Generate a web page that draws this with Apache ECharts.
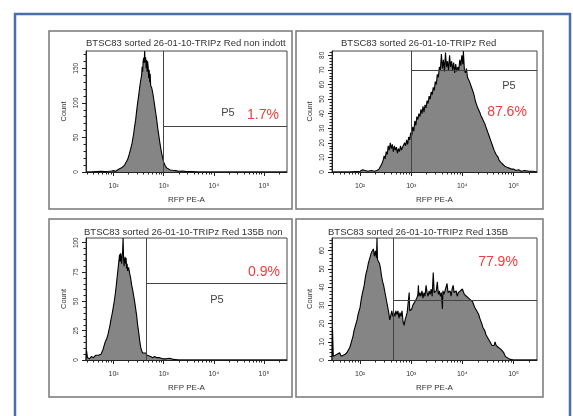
<!DOCTYPE html>
<html><head><meta charset="utf-8">
<script src="https://cdn.jsdelivr.net/npm/echarts@6/dist/echarts.min.js"></script>
<style>html,body{margin:0;padding:0;background:#fff}#c{width:573px;height:416px}</style>
</head><body><div id="c"></div>
<script>
// ---------- data ----------
const panelTitles = [
  'BTSC83 sorted 26-01-10-TRIPz Red non indott',
  'BTSC83 sorted 26-01-10-TRIPz Red',
  'BTSC83 sorted 26-01-10-TRIPz Red 135B non',
  'BTSC83 sorted 26-01-10-TRIPz Red 135B'
];
const xAxisName = 'RFP PE-A';
const yAxisName = 'Count';
const xTickDecades = [2, 3, 4, 5];
const xTickLabels = ['10²', '10³', '10⁴', '10⁵'];
const xMin = 1.45, xMax = 5.46;
const yMaxes = [175, 83, 104, 67];
const yLabelTicks = [
  [0, 50, 100, 150],
  [0, 10, 20, 30, 40, 50, 60, 70, 80],
  [0, 25, 50, 75, 100],
  [0, 10, 20, 30, 40, 50, 60]
];
const yMinorSteps = [10, 2, 5, 2];
const gateName = 'P5';
const gateX = [3.0, 3.0, 2.65, 2.65];
const gateY = [66, 70, 65.5, 33];
const gatePercent = ['1.7%', '87.6%', '0.9%', '77.9%'];

// histograms: [log10(RFP PE-A), count]
const histTL = [[1.46,0],[1.55,0],[1.65,0.5],[1.75,1],[1.82,0.5],[1.90,1],[1.96,1.5],[2.00,2],[2.04,1],[2.07,3],[2.10,4],[2.13,3],[2.16,6],[2.19,8],[2.22,10],[2.25,14],[2.28,18],[2.31,25],[2.34,33],[2.37,42],[2.40,55],[2.42,66],[2.44,75],[2.46,88],[2.48,100],[2.50,110],[2.52,122],[2.54,132],[2.56,140],[2.57,152],[2.58,145],[2.59,160],[2.60,165],[2.61,158],[2.62,175],[2.63,158],[2.64,166],[2.65,150],[2.66,162],[2.67,145],[2.68,160],[2.69,152],[2.70,136],[2.71,148],[2.72,130],[2.73,142],[2.74,125],[2.76,122],[2.78,115],[2.80,106],[2.82,96],[2.84,86],[2.86,76],[2.88,64],[2.90,54],[2.92,44],[2.94,35],[2.96,27],[2.98,20],[3.00,14],[3.03,9],[3.06,6],[3.09,4],[3.13,3],[3.18,2.5],[3.24,2],[3.30,1],[3.38,1.5],[3.45,0.5],[3.55,0.5],[3.70,0],[5.46,0]];
const histTR = [[1.45,0],[1.80,0],[2.00,0.5],[2.05,1.5],[2.08,0.5],[2.15,0.5],[2.22,1],[2.28,0.5],[2.33,1],[2.37,2],[2.40,4],[2.43,6],[2.45,8],[2.47,11],[2.49,9],[2.51,14],[2.53,12],[2.55,18],[2.57,15],[2.59,20],[2.61,16],[2.63,19],[2.65,14],[2.67,18],[2.69,15],[2.71,17],[2.73,13],[2.75,16],[2.77,14],[2.79,18],[2.81,15],[2.83,17],[2.85,16],[2.87,20],[2.89,18],[2.91,22],[2.93,19],[2.95,24],[2.97,22],[2.99,27],[3.01,25],[3.03,31],[3.05,28],[3.07,35],[3.09,32],[3.11,38],[3.13,36],[3.15,40],[3.17,38],[3.19,43],[3.21,40],[3.23,45],[3.25,41],[3.27,46],[3.29,44],[3.31,49],[3.33,47],[3.35,52],[3.37,50],[3.39,55],[3.41,53],[3.43,58],[3.45,56],[3.47,62],[3.49,60],[3.51,67],[3.53,65],[3.55,72],[3.57,70],[3.59,81],[3.61,71],[3.63,77],[3.65,69],[3.67,82],[3.69,72],[3.71,76],[3.73,70],[3.75,80],[3.77,72],[3.79,76],[3.81,70],[3.83,75],[3.85,68],[3.87,74],[3.89,69],[3.91,72],[3.93,70],[3.95,77],[3.97,73],[3.99,80],[4.01,74],[4.02,83],[4.04,70],[4.06,68],[4.08,71],[4.10,65],[4.12,66],[4.14,62],[4.16,63],[4.18,58],[4.20,57],[4.22,54],[4.24,51],[4.26,48],[4.28,46],[4.30,44],[4.32,43],[4.34,41],[4.36,39],[4.38,38],[4.40,36],[4.42,35],[4.44,33],[4.46,31],[4.48,29],[4.50,27],[4.52,25],[4.54,23],[4.56,21],[4.58,19],[4.60,17],[4.62,15],[4.64,14],[4.66,12],[4.68,11],[4.70,10],[4.72,8],[4.74,7],[4.77,6],[4.80,5],[4.83,4],[4.86,5],[4.89,3],[4.92,3],[4.96,2],[5.00,2],[5.05,1],[5.10,1.5],[5.15,0.5],[5.22,1],[5.30,0.5],[5.38,0.5],[5.46,0]];
const histBL = [[1.45,0],[1.46,8],[1.48,2],[1.52,1],[1.56,3],[1.60,2],[1.64,4],[1.67,3],[1.70,4],[1.73,3],[1.75,5],[1.77,6],[1.79,9],[1.81,12],[1.83,15],[1.85,17],[1.87,19],[1.89,22],[1.91,26],[1.93,30],[1.95,35],[1.97,39],[1.99,44],[2.01,49],[2.03,55],[2.05,62],[2.07,70],[2.09,78],[2.11,86],[2.12,90],[2.13,84],[2.14,91],[2.15,87],[2.16,82],[2.17,89],[2.18,92],[2.19,104],[2.20,86],[2.21,80],[2.22,85],[2.23,88],[2.24,82],[2.25,87],[2.26,78],[2.27,82],[2.28,76],[2.30,79],[2.32,74],[2.34,70],[2.36,64],[2.38,60],[2.40,55],[2.42,50],[2.44,44],[2.46,38],[2.48,30],[2.50,24],[2.52,17],[2.54,11],[2.56,8],[2.58,6],[2.61,5],[2.64,6],[2.67,4],[2.70,4],[2.74,3],[2.78,2],[2.82,3],[2.86,2],[2.92,2],[2.98,1],[3.05,1],[3.12,1.5],[3.20,0.5],[3.30,0],[5.46,0]];
const histBR = [[1.45,0],[1.46,17],[1.475,2],[1.50,1],[1.54,3],[1.57,2],[1.60,4],[1.63,2],[1.66,3],[1.70,3],[1.74,4],[1.77,5],[1.80,7],[1.83,10],[1.86,13],[1.88,16],[1.90,18],[1.92,20],[1.94,22],[1.96,25],[1.98,27],[2.00,29],[2.02,33],[2.04,36],[2.06,37],[2.08,41],[2.10,45],[2.12,48],[2.14,50],[2.16,53],[2.18,55],[2.20,56],[2.22,59],[2.24,58],[2.26,61],[2.28,57],[2.30,60],[2.32,56],[2.33,67],[2.34,55],[2.36,56],[2.38,53],[2.40,50],[2.42,46],[2.44,43],[2.46,41],[2.48,38],[2.50,35],[2.52,32],[2.54,29],[2.56,26],[2.58,22],[2.60,21],[2.62,27],[2.64,24],[2.66,26],[2.68,24],[2.70,27],[2.72,25],[2.74,27],[2.76,23],[2.78,26],[2.80,24],[2.82,27],[2.84,21],[2.86,19],[2.88,22],[2.90,24],[2.92,26],[2.94,25],[2.96,37],[2.97,27],[2.99,26],[3.01,28],[3.03,30],[3.05,29],[3.07,32],[3.09,31],[3.11,34],[3.13,36],[3.14,41],[3.15,35],[3.17,37],[3.19,35],[3.21,38],[3.23,34],[3.25,37],[3.27,35],[3.29,41],[3.31,37],[3.33,35],[3.35,38],[3.37,36],[3.39,39],[3.41,35],[3.43,48],[3.45,37],[3.47,36],[3.49,38],[3.51,43],[3.53,36],[3.55,38],[3.57,35],[3.59,37],[3.61,28],[3.62,38],[3.64,36],[3.66,38],[3.68,37],[3.70,42],[3.72,37],[3.74,36],[3.76,38],[3.78,35],[3.80,39],[3.82,41],[3.84,37],[3.86,36],[3.88,38],[3.90,35],[3.92,37],[3.94,36],[3.96,38],[3.98,37],[4.00,39],[4.02,40],[4.04,36],[4.06,37],[4.08,35],[4.10,36],[4.12,34],[4.14,35],[4.16,33],[4.18,34],[4.20,32],[4.22,31],[4.24,29],[4.26,30],[4.28,27],[4.30,26],[4.32,25],[4.34,23],[4.36,22],[4.38,20],[4.40,18],[4.42,17],[4.44,16],[4.46,14],[4.48,13],[4.50,12],[4.52,11],[4.54,10],[4.56,9],[4.58,8],[4.60,9],[4.62,8],[4.64,10],[4.66,8],[4.68,9],[4.70,7],[4.72,6],[4.75,6],[4.78,5],[4.81,4],[4.84,2],[4.87,1],[4.92,0.5],[5.00,0],[5.46,0]];
const histograms = [histTL, histTR, histBL, histBR];

// ---------- layout ----------
const grids = [
  {left: 86, top: 51, width: 201, height: 121},
  {left: 332, top: 51, width: 205, height: 121},
  {left: 86, top: 238, width: 201, height: 122},
  {left: 332, top: 238, width: 205, height: 122}
];
const titlePos = [{left: 86, top: 38}, {left: 341, top: 38}, {left: 84, top: 227}, {left: 328, top: 227}];
const panelBoxes = [[49, 31, 243, 178], [296, 31, 247, 178], [49, 219, 243, 178], [296, 219, 247, 178]];
// annotation text centres (pixels)
const annot = [
  {p5: [228, 113], pct: [263, 115]},
  {p5: [509, 86], pct: [507, 112]},
  {p5: [217, 300], pct: [264, 272]},
  {p5: null, pct: [498, 262]}
];

const xMinor = [];
for (let n = 1; n <= 5; n++) for (let k = 2; k <= 9; k++) {
  const v = n + Math.log10(k);
  if (v > xMin && v < xMax) xMinor.push(v);
}
function yMinorOf(i) {
  const out = [];
  for (let v = yMinorSteps[i]; v < yMaxes[i]; v += yMinorSteps[i]) {
    if (yLabelTicks[i].indexOf(v) < 0) out.push(v);
  }
  return out;
}

const FONT = 'Liberation Sans, Arial, sans-serif';
const xAxes = [], yAxes = [], series = [], titles = [], graphics = [];

for (let i = 0; i < 4; i++) {
  xAxes.push({
    type: 'value', gridIndex: i, min: xMin, max: xMax, position: 'bottom',
    axisLine: {show: true, lineStyle: {color: '#222', width: 1}},
    axisTick: {show: true, customValues: xTickDecades, length: 4, lineStyle: {color: '#222'}},
    axisLabel: {customValues: xTickDecades, fontSize: 7, color: '#333', margin: 11,
      formatter: v => xTickLabels[xTickDecades.indexOf(Math.round(v))] || ''},
    splitLine: {show: false},
    name: xAxisName, nameLocation: 'middle', nameGap: 24,
    nameTextStyle: {fontSize: 8, color: '#333'}
  });
  xAxes.push({
    type: 'value', gridIndex: i, min: xMin, max: xMax, position: 'bottom',
    axisLine: {show: false},
    axisTick: {show: true, customValues: xMinor, length: 2.5, lineStyle: {color: '#222'}},
    axisLabel: {show: false}, splitLine: {show: false}
  });
  yAxes.push({
    type: 'value', gridIndex: i, min: 0, max: yMaxes[i], position: 'left',
    axisLine: {show: true, lineStyle: {color: '#222', width: 1}},
    axisTick: {show: true, customValues: yLabelTicks[i], length: 4, lineStyle: {color: '#222'}},
    axisLabel: {customValues: yLabelTicks[i], rotate: 90, fontSize: 6.5, color: '#333', margin: 6},
    splitLine: {show: false},
    name: yAxisName, nameLocation: 'middle', nameRotate: 90, nameGap: 18,
    nameTextStyle: {fontSize: 7.5, color: '#333'}
  });
  yAxes.push({
    type: 'value', gridIndex: i, min: 0, max: yMaxes[i], position: 'left',
    axisLine: {show: false},
    axisTick: {show: true, customValues: yMinorOf(i), length: 2.5, lineStyle: {color: '#222'}},
    axisLabel: {show: false}, splitLine: {show: false}
  });
  series.push({
    type: 'line', xAxisIndex: 2 * i, yAxisIndex: 2 * i, data: histograms[i],
    showSymbol: false, symbol: 'none', animation: false, silent: true,
    lineStyle: {color: '#000', width: 1.1},
    areaStyle: {color: '#858585', opacity: 1},
    markLine: {
      silent: true, symbol: ['none', 'none'], animation: false,
      label: {show: false},
      lineStyle: {color: '#444', width: 1, type: 'solid'},
      data: [
        [{coord: [gateX[i], 0]}, {coord: [gateX[i], yMaxes[i]]}],
        [{coord: [gateX[i], gateY[i]]}, {coord: [xMax, gateY[i]]}]
      ]
    }
  });
  titles.push({
    text: panelTitles[i], left: titlePos[i].left, top: titlePos[i].top, padding: 0,
    textStyle: {fontSize: 9.5, fontWeight: 'normal', color: '#333', fontFamily: FONT}
  });
  const b = panelBoxes[i];
  graphics.push({type: 'rect', z: 0, shape: {x: b[0], y: b[1], width: b[2], height: b[3]},
    style: {fill: 'none', stroke: '#777', lineWidth: 1.5}});
  if (annot[i].p5) graphics.push({type: 'text', z: 10, x: annot[i].p5[0], y: annot[i].p5[1],
    style: {text: gateName, fontSize: 11, fill: '#444', align: 'center', verticalAlign: 'middle', fontFamily: FONT}});
  graphics.push({type: 'text', z: 10, x: annot[i].pct[0], y: annot[i].pct[1],
    style: {text: gatePercent[i], fontSize: 14, fill: '#f23b3b', align: 'center', verticalAlign: 'middle', fontFamily: FONT}});
}
graphics.push({type: 'rect', z: 0, shape: {x: 15, y: 14, width: 555, height: 420},
  style: {fill: 'none', stroke: '#4a6fa8', lineWidth: 2.5}});

const option = {
  animation: false,
  backgroundColor: '#fff',
  textStyle: {fontFamily: FONT},
  title: titles,
  grid: grids.map(g => Object.assign({show: true, borderColor: '#444', borderWidth: 1, backgroundColor: 'transparent'}, g)),
  xAxis: xAxes,
  yAxis: yAxes,
  series: series,
  graphic: graphics
};
const chart = echarts.init(document.getElementById('c'), null, {renderer: 'canvas'});
chart.setOption(option);
</script></body></html>
